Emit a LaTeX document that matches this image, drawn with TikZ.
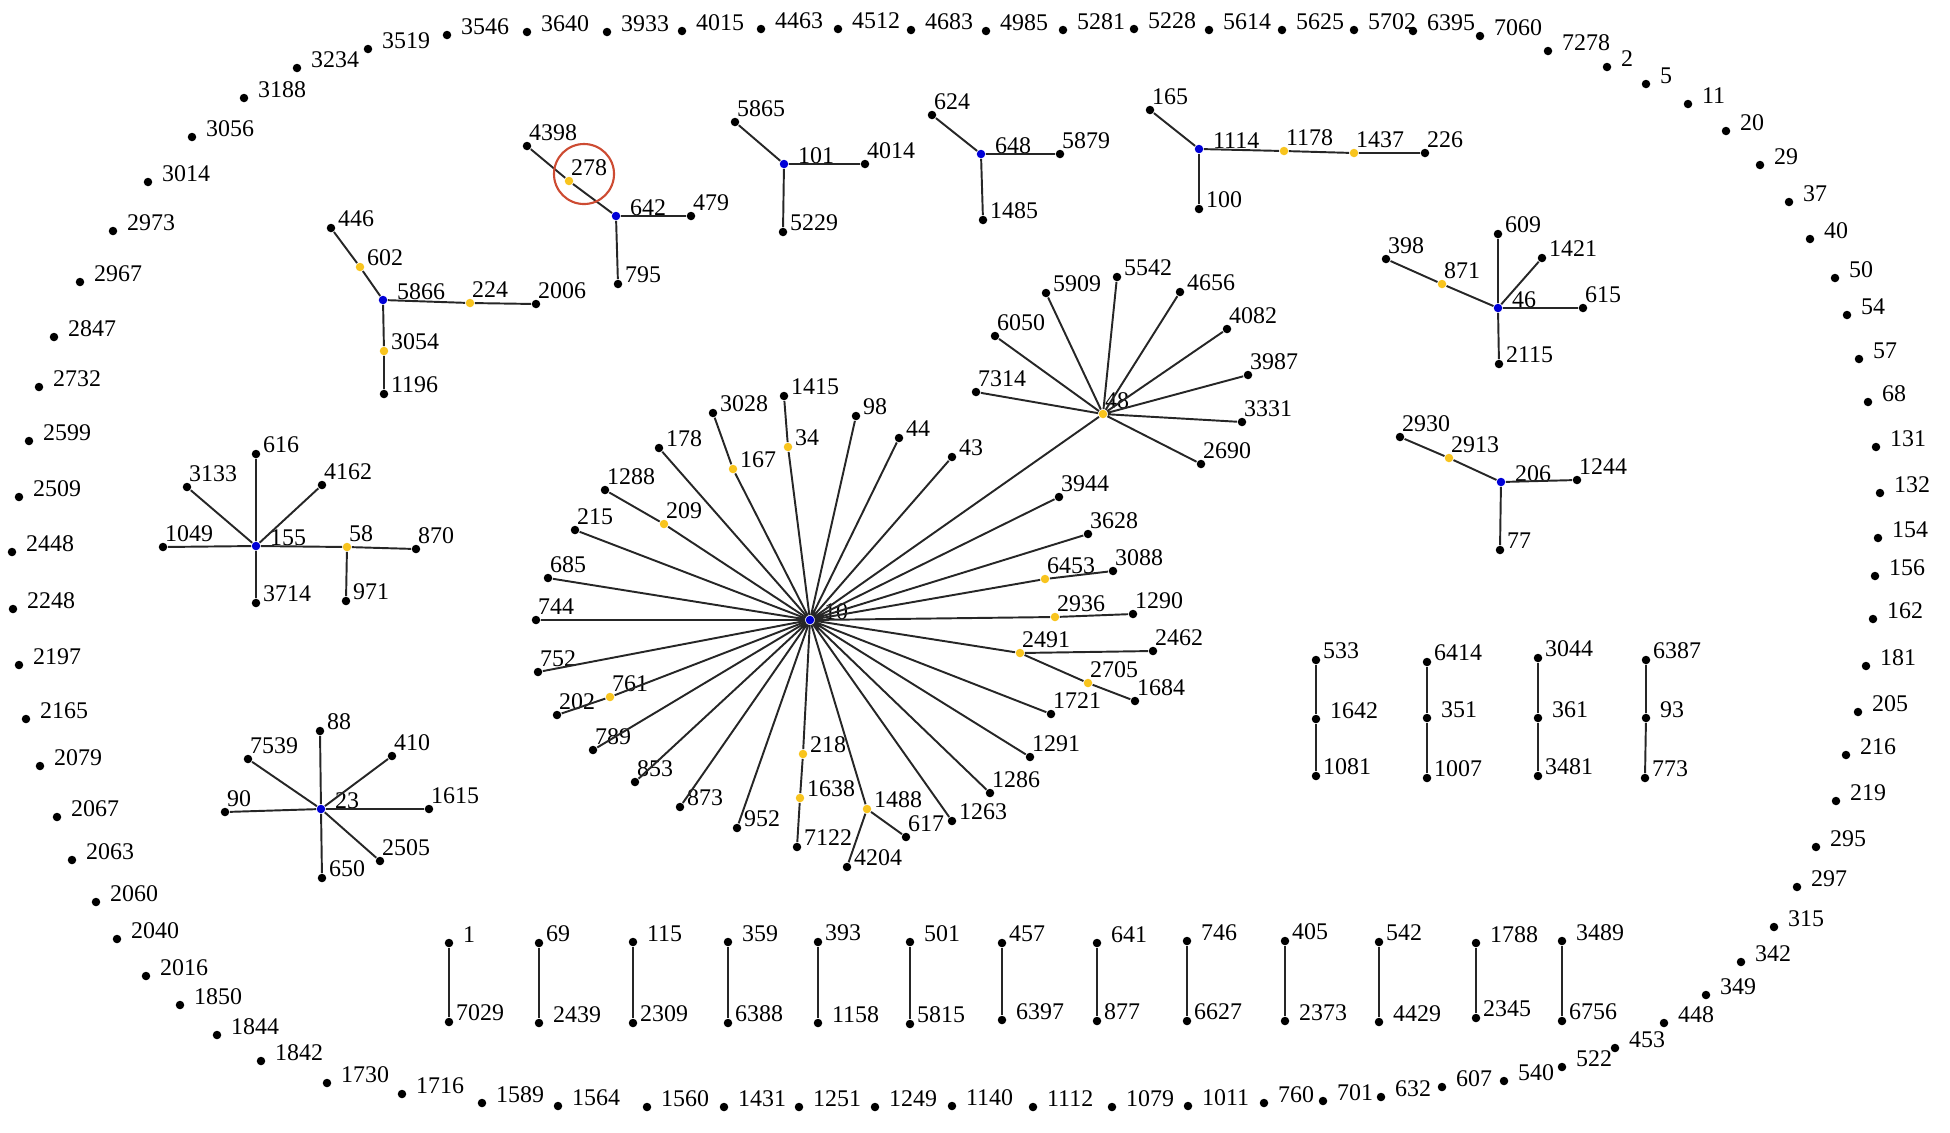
\documentclass[tikz,border=0pt]{standalone}
\usepackage{fontspec}
\setmainfont{Liberation Serif}
\definecolor{hubblue}{RGB}{0,0,215}
\definecolor{midyel}{RGB}{248,196,30}
\definecolor{selred}{RGB}{205,75,50}
\tikzset{
  leafdot/.style={circle, fill=black, inner sep=0pt, minimum size=0.085cm},
  hubdot/.style={leafdot, fill=hubblue},
  middot/.style={leafdot, fill=midyel},
  lbl/.style={anchor=base west, inner sep=0pt, font=\fontsize{6.8}{8}\selectfont},
  ltag/.style={label={[lbl, xshift=-0.035cm, yshift=0.06cm]0:#1}},
  rtag/.style={label={[lbl, xshift=0.015cm, yshift=0.02cm]0:#1}},
  ftag/.style={label={[lbl, xshift=0.085cm, yshift=0.01cm]0:#1}},
  link/.style={draw=black!85, line width=0.55pt},
  hilite/.style={draw=selred, line width=0.6pt},
}
\begin{document}
\begin{tikzpicture}[x=0.01cm, y=-0.01cm]
    \useasboundingbox (0,0) rectangle (1950,1132);

    % Isolated nodes round the edge, top left going clockwise
    \node[leafdot, ftag=3234] (n3234) at (297,68) {};
    \node[leafdot, ftag=3519] (n3519) at (368,49) {};
    \node[leafdot, ftag=3546] (n3546) at (447,35) {};
    \node[leafdot, ftag=3640] (n3640) at (527,32) {};
    \node[leafdot, ftag=3933] (n3933) at (607,32) {};
    \node[leafdot, ftag=4015] (n4015) at (682,31) {};
    \node[leafdot, ftag=4463] (n4463) at (761,29) {};
    \node[leafdot, ftag=4512] (n4512) at (838,29) {};
    \node[leafdot, ftag=4683] (n4683) at (911,30) {};
    \node[leafdot, ftag=4985] (n4985) at (986,31) {};
    \node[leafdot, ftag=5281] (n5281) at (1063,30) {};
    \node[leafdot, ftag=5228] (n5228) at (1134,29) {};
    \node[leafdot, ftag=5614] (n5614) at (1209,30) {};
    \node[leafdot, ftag=5625] (n5625) at (1282,30) {};
    \node[leafdot, ftag=5702] (n5702) at (1354,30) {};
    \node[leafdot, ftag=6395] (n6395) at (1413,31) {};
    \node[leafdot, ftag=7060] (n7060) at (1480,36) {};
    \node[leafdot, ftag=7278] (n7278) at (1548,51) {};
    \node[leafdot, ftag=2] (n2) at (1607,67) {};
    \node[leafdot, ftag=5] (n5) at (1646,84) {};
    \node[leafdot, ftag=11] (n11) at (1688,104) {};
    \node[leafdot, ftag=20] (n20) at (1726,131) {};
    \node[leafdot, ftag=29] (n29) at (1760,165) {};
    \node[leafdot, ftag=37] (n37) at (1789,202) {};
    \node[leafdot, ftag=40] (n40) at (1810,239) {};
    \node[leafdot, ftag=50] (n50) at (1835,278) {};
    \node[leafdot, ftag=54] (n54) at (1847,315) {};
    \node[leafdot, ftag=57] (n57) at (1859,359) {};
    \node[leafdot, ftag=68] (n68) at (1868,402) {};
    \node[leafdot, ftag=131] (n131) at (1876,447) {};
    \node[leafdot, ftag=132] (n132) at (1880,493) {};
    \node[leafdot, ftag=154] (n154) at (1878,538) {};
    \node[leafdot, ftag=156] (n156) at (1875,576) {};
    \node[leafdot, ftag=162] (n162) at (1873,619) {};
    \node[leafdot, ftag=181] (n181) at (1866,666) {};
    \node[leafdot, ftag=205] (n205) at (1858,712) {};
    \node[leafdot, ftag=216] (n216) at (1846,755) {};
    \node[leafdot, ftag=219] (n219) at (1836,801) {};
    \node[leafdot, ftag=295] (n295) at (1816,847) {};
    \node[leafdot, ftag=297] (n297) at (1797,887) {};
    \node[leafdot, ftag=315] (n315) at (1774,927) {};
    \node[leafdot, ftag=342] (n342) at (1741,962) {};
    \node[leafdot, ftag=349] (n349) at (1706,995) {};
    \node[leafdot, ftag=448] (n448) at (1664,1023) {};
    \node[leafdot, ftag=453] (n453) at (1615,1048) {};
    \node[leafdot, ftag=522] (n522) at (1562,1067) {};
    \node[leafdot, ftag=540] (n540) at (1504,1081) {};
    \node[leafdot, ftag=607] (n607) at (1442,1087) {};
    \node[leafdot, ftag=632] (n632) at (1381,1097) {};
    \node[leafdot, ftag=701] (n701) at (1323,1101) {};
    \node[leafdot, ftag=760] (n760) at (1264,1103) {};
    \node[leafdot, ftag=1011] (n1011) at (1188,1106) {};
    \node[leafdot, ftag=1079] (n1079) at (1112,1107) {};
    \node[leafdot, ftag=1112] (n1112) at (1033,1107) {};
    \node[leafdot, ftag=1140] (n1140) at (952,1106) {};
    \node[leafdot, ftag=1249] (n1249) at (875,1107) {};
    \node[leafdot, ftag=1251] (n1251) at (799,1107) {};
    \node[leafdot, ftag=1431] (n1431) at (724,1107) {};
    \node[leafdot, ftag=1560] (n1560) at (647,1107) {};
    \node[leafdot, ftag=1564] (n1564) at (558,1106) {};
    \node[leafdot, ftag=1589] (n1589) at (482,1103) {};
    \node[leafdot, ftag=1716] (n1716) at (402,1094) {};
    \node[leafdot, ftag=1730] (n1730) at (327,1083) {};
    \node[leafdot, ftag=1842] (n1842) at (261,1061) {};
    \node[leafdot, ftag=1844] (n1844) at (217,1035) {};
    \node[leafdot, ftag=1850] (n1850) at (180,1005) {};
    \node[leafdot, ftag=2016] (n2016) at (146,976) {};
    \node[leafdot, ftag=2040] (n2040) at (117,939) {};
    \node[leafdot, ftag=2060] (n2060) at (96,902) {};
    \node[leafdot, ftag=2063] (n2063) at (72,860) {};
    \node[leafdot, ftag=2067] (n2067) at (57,817) {};
    \node[leafdot, ftag=2079] (n2079) at (40,766) {};
    \node[leafdot, ftag=2165] (n2165) at (26,719) {};
    \node[leafdot, ftag=2197] (n2197) at (19,665) {};
    \node[leafdot, ftag=2248] (n2248) at (13,609) {};
    \node[leafdot, ftag=2448] (n2448) at (12,552) {};
    \node[leafdot, ftag=2509] (n2509) at (19,497) {};
    \node[leafdot, ftag=2599] (n2599) at (29,441) {};
    \node[leafdot, ftag=2732] (n2732) at (39,387) {};
    \node[leafdot, ftag=2847] (n2847) at (54,337) {};
    \node[leafdot, ftag=2967] (n2967) at (80,282) {};
    \node[leafdot, ftag=2973] (n2973) at (113,231) {};
    \node[leafdot, ftag=3014] (n3014) at (148,182) {};
    \node[leafdot, ftag=3056] (n3056) at (192,137) {};
    \node[leafdot, ftag=3188] (n3188) at (244,98) {};

    % Tree round 5866
    \node[leafdot, rtag=446] (n446) at (331,228) {};
    \node[middot, rtag=602] (n602) at (360,267) {};
    \node[hubdot, ftag=5866] (n5866) at (383,300) {};
    \node[middot, ltag=224] (n224) at (470,303) {};
    \node[leafdot, ltag=2006] (n2006) at (536,304) {};
    \node[middot, rtag=3054] (n3054) at (384,351) {};
    \node[leafdot, rtag=1196] (n1196) at (384,394) {};
    \draw[link] (n446) -- (n602) -- (n5866) -- (n224) -- (n2006);
    \draw[link] (n5866) -- (n3054) -- (n1196);

    % Tree round 642, with 278 ringed
    \node[leafdot, ltag=4398] (n4398) at (527,146) {};
    \node[middot, ltag=278] (n278) at (569,181) {};
    \node[hubdot, ftag=642] (n642) at (616,216) {};
    \node[leafdot, ltag=479] (n479) at (691,216) {};
    \node[leafdot, rtag=795] (n795) at (618,284) {};
    \draw[link] (n4398) -- (n278) -- (n642) -- (n479);
    \draw[link] (n642) -- (n795);
    \draw[hilite] (584,174) circle (0.3cm);

    % Tree round 101
    \node[leafdot, ltag=5865] (n5865) at (735,122) {};
    \node[hubdot, ftag=101] (n101) at (784,164) {};
    \node[leafdot, ltag=4014] (n4014) at (865,164) {};
    \node[leafdot, rtag=5229] (n5229) at (783,232) {};
    \draw[link] (n5865) -- (n101) -- (n4014);
    \draw[link] (n101) -- (n5229);

    % Tree round 648
    \node[leafdot, ltag=624] (n624) at (932,115) {};
    \node[hubdot, ftag=648] (n648) at (981,154) {};
    \node[leafdot, ltag=5879] (n5879) at (1060,154) {};
    \node[leafdot, rtag=1485] (n1485) at (983,220) {};
    \draw[link] (n624) -- (n648) -- (n5879);
    \draw[link] (n648) -- (n1485);

    % Tree round 1114
    \node[leafdot, ltag=165] (n165) at (1150,110) {};
    \node[hubdot, ftag=1114] (n1114) at (1199,149) {};
    \node[middot, ltag=1178] (n1178) at (1284,151) {};
    \node[middot, ltag=1437] (n1437) at (1354,153) {};
    \node[leafdot, ltag=226] (n226) at (1425,153) {};
    \node[leafdot, rtag=100] (n100) at (1199,209) {};
    \draw[link] (n165) -- (n1114) -- (n1178) -- (n1437) -- (n226);
    \draw[link] (n1114) -- (n100);

    % Tree round 46
    \node[leafdot, ltag=398] (n398) at (1386,259) {};
    \node[middot, ltag=871] (n871) at (1442,284) {};
    \node[hubdot, ftag=46] (n46) at (1498,308) {};
    \node[leafdot, rtag=609] (n609) at (1498,234) {};
    \node[leafdot, rtag=1421] (n1421) at (1542,258) {};
    \node[leafdot, ltag=615] (n615) at (1583,308) {};
    \node[leafdot, rtag=2115] (n2115) at (1499,364) {};
    \draw[link] (n398) -- (n871) -- (n46) -- (n615);
    \draw[link] (n46) -- (n609) (n46) -- (n1421) (n46) -- (n2115);

    % Tree round 206
    \node[leafdot, ltag=2930] (n2930) at (1400,437) {};
    \node[middot, ltag=2913] (n2913) at (1449,458) {};
    \node[hubdot, ftag=206] (n206) at (1501,482) {};
    \node[leafdot, ltag=1244] (n1244) at (1577,480) {};
    \node[leafdot, rtag=77] (n77) at (1500,550) {};
    \draw[link] (n2930) -- (n2913) -- (n206) -- (n1244);
    \draw[link] (n206) -- (n77);

    % Tree round 155
    \node[hubdot, ftag=155] (n155) at (256,546) {};
    \node[leafdot, rtag=616] (n616) at (256,454) {};
    \node[leafdot, ltag=3133] (n3133) at (187,487) {};
    \node[leafdot, ltag=4162] (n4162) at (322,485) {};
    \node[leafdot, ltag=1049] (n1049) at (163,547) {};
    \node[middot, ltag=58] (n58) at (347,547) {};
    \node[leafdot, ltag=870] (n870) at (416,549) {};
    \node[leafdot, rtag=971] (n971) at (346,601) {};
    \node[leafdot, rtag=3714] (n3714) at (256,603) {};
    \draw[link] (n155) -- (n616) (n155) -- (n3133) (n155) -- (n4162)
        (n155) -- (n1049) (n155) -- (n3714);
    \draw[link] (n155) -- (n58) -- (n870);
    \draw[link] (n58) -- (n971);

    % Star round 23
    \node[hubdot, ftag=23] (n23) at (321,809) {};
    \node[leafdot, rtag=88] (n88) at (320,731) {};
    \node[leafdot, ltag=7539] (n7539) at (248,759) {};
    \node[leafdot, ltag=410] (n410) at (392,756) {};
    \node[leafdot, ltag=90] (n90) at (225,812) {};
    \node[leafdot, ltag=1615] (n1615) at (429,809) {};
    \node[leafdot, ltag=2505] (n2505) at (380,861) {};
    \node[leafdot, rtag=650] (n650) at (322,878) {};
    \draw[link] (n23) -- (n88) (n23) -- (n7539) (n23) -- (n410) (n23) -- (n90)
        (n23) -- (n1615) (n23) -- (n2505) (n23) -- (n650);

    % Big star round 10
    \node[hubdot, ftag=10] (n10) at (810,620) {};
    \node[leafdot, rtag=1415] (n1415) at (784,396) {};
    \node[middot, rtag=34] (n34) at (788,447) {};
    \node[leafdot, rtag=3028] (n3028) at (713,413) {};
    \node[middot, rtag=167] (n167) at (733,469) {};
    \node[leafdot, rtag=178] (n178) at (659,448) {};
    \node[leafdot, ltag=1288] (n1288) at (605,490) {};
    \node[middot, ltag=209] (n209) at (664,524) {};
    \node[leafdot, ltag=215] (n215) at (575,530) {};
    \node[leafdot, ltag=685] (n685) at (548,578) {};
    \node[leafdot, ltag=744] (n744) at (536,620) {};
    \node[leafdot, ltag=752] (n752) at (538,672) {};
    \node[leafdot, ltag=202] (n202) at (557,715) {};
    \node[middot, ltag=761] (n761) at (610,697) {};
    \node[leafdot, ltag=789] (n789) at (593,750) {};
    \node[leafdot, ltag=853] (n853) at (635,782) {};
    \node[leafdot, rtag=873] (n873) at (680,807) {};
    \node[leafdot, rtag=952] (n952) at (737,828) {};
    \node[middot, rtag=218] (n218) at (803,754) {};
    \node[middot, rtag=1638] (n1638) at (800,798) {};
    \node[leafdot, rtag=7122] (n7122) at (797,847) {};
    \node[middot, rtag=1488] (n1488) at (867,809) {};
    \node[leafdot, ltag=617] (n617) at (906,837) {};
    \node[leafdot, rtag=4204] (n4204) at (847,867) {};
    \node[leafdot, rtag=1263] (n1263) at (952,821) {};
    \node[leafdot, ltag=1286] (n1286) at (990,793) {};
    \node[leafdot, ltag=1291] (n1291) at (1030,757) {};
    \node[leafdot, ltag=1721] (n1721) at (1051,714) {};
    \node[middot, ltag=2491] (n2491) at (1020,653) {};
    \node[leafdot, ltag=2462] (n2462) at (1153,651) {};
    \node[middot, ltag=2705] (n2705) at (1088,683) {};
    \node[leafdot, ltag=1684] (n1684) at (1135,701) {};
    \node[middot, ltag=2936] (n2936) at (1055,617) {};
    \node[leafdot, ltag=1290] (n1290) at (1133,614) {};
    \node[middot, ltag=6453] (n6453) at (1045,579) {};
    \node[leafdot, ltag=3088] (n3088) at (1113,571) {};
    \node[leafdot, ltag=3628] (n3628) at (1088,534) {};
    \node[leafdot, ltag=3944] (n3944) at (1059,497) {};
    \node[leafdot, rtag=43] (n43) at (952,457) {};
    \node[leafdot, rtag=44] (n44) at (899,438) {};
    \node[leafdot, rtag=98] (n98) at (856,416) {};
    \draw[link] (n10) -- (n34) -- (n1415);
    \draw[link] (n10) -- (n167) -- (n3028);
    \draw[link] (n10) -- (n209) -- (n1288);
    \draw[link] (n10) -- (n761) -- (n202);
    \draw[link] (n10) -- (n218) -- (n1638) -- (n7122);
    \draw[link] (n10) -- (n1488) -- (n4204);
    \draw[link] (n1488) -- (n617);
    \draw[link] (n10) -- (n2491) -- (n2462);
    \draw[link] (n2491) -- (n2705) -- (n1684);
    \draw[link] (n10) -- (n2936) -- (n1290);
    \draw[link] (n10) -- (n6453) -- (n3088);
    \draw[link] (n10) -- (n178) (n10) -- (n215) (n10) -- (n685) (n10) -- (n744)
        (n10) -- (n752) (n10) -- (n789) (n10) -- (n853) (n10) -- (n873)
        (n10) -- (n952) (n10) -- (n1263) (n10) -- (n1286) (n10) -- (n1291)
        (n10) -- (n1721) (n10) -- (n3628) (n10) -- (n3944) (n10) -- (n43)
        (n10) -- (n44) (n10) -- (n98);

    % Star round 48, hanging from 10
    \node[middot, ltag=48] (n48) at (1103,414) {};
    \node[leafdot, ltag=6050] (n6050) at (995,336) {};
    \node[leafdot, rtag=5909] (n5909) at (1046,293) {};
    \node[leafdot, rtag=5542] (n5542) at (1117,277) {};
    \node[leafdot, rtag=4656] (n4656) at (1180,292) {};
    \node[leafdot, ltag=4082] (n4082) at (1227,329) {};
    \node[leafdot, ltag=3987] (n3987) at (1248,375) {};
    \node[leafdot, ltag=3331] (n3331) at (1242,422) {};
    \node[leafdot, ltag=2690] (n2690) at (1201,464) {};
    \node[leafdot, ltag=7314] (n7314) at (976,392) {};
    \draw[link] (n10) -- (n48);
    \draw[link] (n48) -- (n6050) (n48) -- (n5909) (n48) -- (n5542) (n48) -- (n4656)
        (n48) -- (n4082) (n48) -- (n3987) (n48) -- (n3331) (n48) -- (n2690)
        (n48) -- (n7314);

    % Chains of three
    \node[leafdot, rtag=533] (n533) at (1316,660) {};
    \node[leafdot, ftag=1642] (n1642) at (1316,719) {};
    \node[leafdot, rtag=1081] (n1081) at (1316,776) {};
    \node[leafdot, rtag=6414] (n6414) at (1427,662) {};
    \node[leafdot, ftag=351] (n351) at (1427,718) {};
    \node[leafdot, rtag=1007] (n1007) at (1427,778) {};
    \node[leafdot, rtag=3044] (n3044) at (1538,658) {};
    \node[leafdot, ftag=361] (n361) at (1538,718) {};
    \node[leafdot, rtag=3481] (n3481) at (1538,776) {};
    \node[leafdot, rtag=6387] (n6387) at (1646,660) {};
    \node[leafdot, ftag=93] (n93) at (1646,718) {};
    \node[leafdot, rtag=773] (n773) at (1645,778) {};
    \draw[link] (n533) -- (n1642) -- (n1081);
    \draw[link] (n6414) -- (n351) -- (n1007);
    \draw[link] (n3044) -- (n361) -- (n3481);
    \draw[link] (n6387) -- (n93) -- (n773);

    % Pairs along the bottom
    \node[leafdot, ftag=1] (n1) at (449,943) {};
    \node[leafdot, rtag=7029] (n7029) at (449,1022) {};
    \node[leafdot, rtag=69] (n69) at (539,943) {};
    \node[leafdot, ftag=2439] (n2439) at (539,1023) {};
    \node[leafdot, ftag=115] (n115) at (633,942) {};
    \node[leafdot, rtag=2309] (n2309) at (633,1023) {};
    \node[leafdot, ftag=359] (n359) at (728,942) {};
    \node[leafdot, rtag=6388] (n6388) at (728,1023) {};
    \node[leafdot, rtag=393] (n393) at (818,942) {};
    \node[leafdot, ftag=1158] (n1158) at (818,1023) {};
    \node[leafdot, ftag=501] (n501) at (910,942) {};
    \node[leafdot, rtag=5815] (n5815) at (910,1024) {};
    \node[leafdot, rtag=457] (n457) at (1002,943) {};
    \node[leafdot, ftag=6397] (n6397) at (1002,1020) {};
    \node[leafdot, ftag=641] (n641) at (1097,943) {};
    \node[leafdot, rtag=877] (n877) at (1097,1021) {};
    \node[leafdot, ftag=746] (n746) at (1187,941) {};
    \node[leafdot, rtag=6627] (n6627) at (1187,1021) {};
    \node[leafdot, rtag=405] (n405) at (1285,941) {};
    \node[leafdot, ftag=2373] (n2373) at (1285,1021) {};
    \node[leafdot, rtag=542] (n542) at (1379,942) {};
    \node[leafdot, ftag=4429] (n4429) at (1379,1022) {};
    \node[leafdot, ftag=1788] (n1788) at (1476,943) {};
    \node[leafdot, rtag=2345] (n2345) at (1476,1018) {};
    \node[leafdot, ftag=3489] (n3489) at (1562,941) {};
    \node[leafdot, rtag=6756] (n6756) at (1562,1021) {};
    \draw[link] (n1) -- (n7029) (n69) -- (n2439) (n115) -- (n2309) (n359) -- (n6388)
        (n393) -- (n1158) (n501) -- (n5815) (n457) -- (n6397) (n641) -- (n877)
        (n746) -- (n6627) (n405) -- (n2373) (n542) -- (n4429) (n1788) -- (n2345)
        (n3489) -- (n6756);
\end{tikzpicture}
\end{document}
